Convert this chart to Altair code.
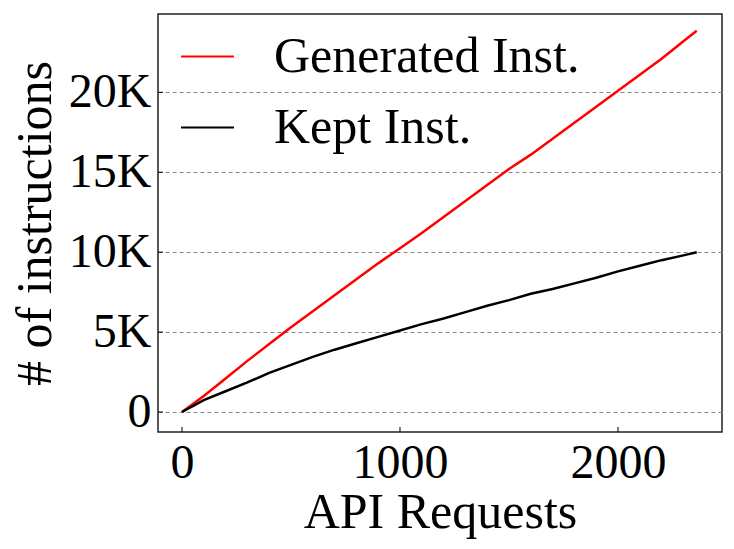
import altair as alt
import pandas as pd

# Data
requests = [0, 100, 200, 300, 400, 500, 600, 700, 800, 900, 1000, 1100, 1200,
            1300, 1400, 1500, 1600, 1700, 1800, 1900, 2000, 2100, 2200, 2300, 2361]
generated = [0, 1.0, 2.1, 3.2, 4.25, 5.3, 6.3, 7.3, 8.3, 9.3, 10.25, 11.2, 12.2,
             13.2, 14.2, 15.2, 16.1, 17.1, 18.1, 19.1, 20.1, 21.1, 22.1, 23.2, 23.85]
kept = [0, 0.75, 1.3, 1.85, 2.45, 2.95, 3.45, 3.9, 4.3, 4.7, 5.1, 5.5, 5.85,
        6.25, 6.65, 7.0, 7.4, 7.7, 8.05, 8.4, 8.8, 9.15, 9.5, 9.8, 10.0]
series_names = ["Generated Inst.", "Kept Inst."]
series_colors = ["red", "black"]
x_ticks = [0, 1000, 2000]
y_ticks = [0, 5000, 10000, 15000, 20000]

rows = []
for r, g, k in zip(requests, generated, kept):
    rows.append({"req": r, "val": g * 1000, "series": series_names[0]})
    rows.append({"req": r, "val": k * 1000, "series": series_names[1]})
df = pd.DataFrame(rows)

FONT = "Liberation Serif, Times New Roman, DejaVu Serif, serif"
xscale = alt.Scale(domain=[-110, 2477], nice=False, zero=False)
yscale = alt.Scale(domain=[-1250, 24900], nice=False, zero=False)

lines = alt.Chart(df).mark_line(strokeWidth=2.5).encode(
    x=alt.X("req:Q", scale=xscale,
            axis=alt.Axis(title="API Requests", values=x_ticks, format="d",
                          grid=False, tickSize=0, labelPadding=7,
                          labelFontSize=48, titleFontSize=50,
                          labelFont=FONT, titleFont=FONT, titleFontWeight="normal",
                          titlePadding=0, labelColor="black", titleColor="black",
                          domain=False)),
    y=alt.Y("val:Q", scale=yscale,
            axis=alt.Axis(title="# of instructions", values=y_ticks,
                          labelExpr="datum.value == 0 ? '0' : (datum.value/1000) + 'K'",
                          grid=True, gridDash=[4, 3], gridColor="#888888", gridWidth=1,
                          tickSize=0, labelPadding=7, labelFontSize=48,
                          titleFontSize=50, labelColor="black", titleColor="black",
                          labelFont=FONT, titleFont=FONT, titleFontWeight="normal",
                          titleX=-123, titleY=209, titleAngle=270,
                          titleAlign="center", titleBaseline="middle",
                          domain=False)),
    color=alt.Color("series:N",
                    scale=alt.Scale(domain=series_names, range=series_colors),
                    sort=series_names,
                    legend=alt.Legend(title=None, orient="none", legendX=22, legendY=15,
                                      symbolType="stroke", symbolSize=2800,
                                      symbolStrokeWidth=2, labelFontSize=50,
                                      labelOffset=39, rowPadding=18, labelLimit=0,
                                      labelColor="black", labelFont=FONT)),
    order="req:Q",
)

xt = alt.Chart(pd.DataFrame({"t": x_ticks})).mark_rule(color="black", strokeWidth=1).encode(
    x=alt.X("t:Q", scale=xscale), y=alt.value(418), y2=alt.value(413))
yt = alt.Chart(pd.DataFrame({"t": y_ticks})).mark_rule(color="black", strokeWidth=1).encode(
    y=alt.Y("t:Q", scale=yscale), x=alt.value(0), x2=alt.value(5))

chart = alt.layer(lines, xt, yt).properties(
    width=564, height=418,
    autosize=alt.AutoSizeParams(type="none"),
    padding={"left": 150, "top": 6, "right": 4, "bottom": 109},
).configure(
    font=FONT,
    view=alt.ViewConfig(stroke="#222222", strokeWidth=1.5),
)

chart.save("out.html", embed_options={"renderer": "svg", "actions": False})
